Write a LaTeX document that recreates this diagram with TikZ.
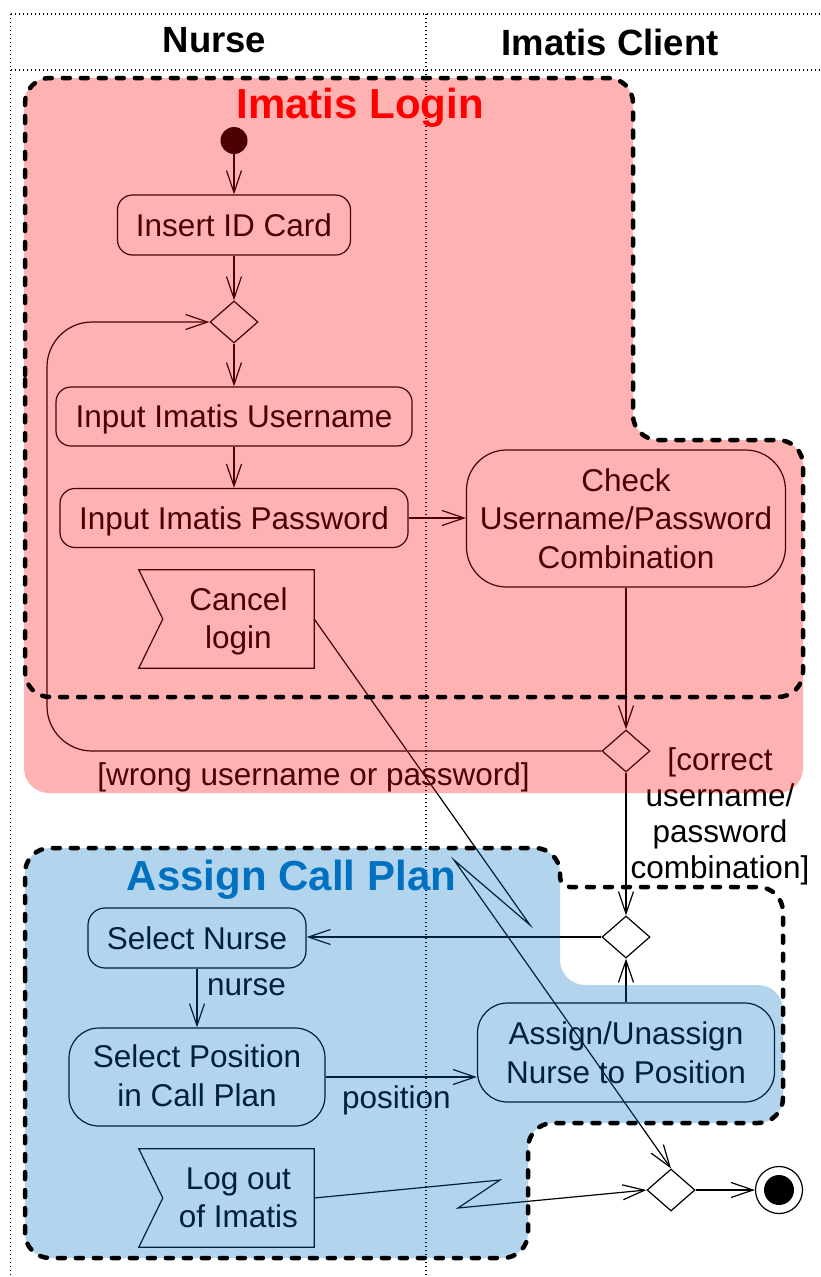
\documentclass[tikz,border=0pt]{standalone}
\usepackage{fontspec}
\setmainfont{Liberation Sans}
\usetikzlibrary{arrows.meta,calc,shapes.geometric}
\definecolor{regred}{RGB}{255,0,0}
\definecolor{regblue}{RGB}{0,112,192}
\begin{document}
\begin{tikzpicture}[x=1pt,y=-1pt,
  every node/.style={font=\fontsize{31.5}{38.5}\selectfont, inner sep=0pt},
  action/.style={draw, line width=1.2pt, rounded corners=15pt, align=center},
  oneline/.style={text height=22.6pt, text depth=0pt},
  dec/.style={draw, line width=1.2pt, diamond, minimum width=48pt, minimum height=42pt, inner sep=0pt},
  sigbox/.style={align=center, minimum width=151pt, minimum height=98pt},
  flow/.style={line width=1.2pt, -{Straight Barb[length=22pt,width=15pt]}},
  lane/.style={line width=1.4pt, dash pattern=on 1.4pt off 2.6pt},
  regborder/.style={line width=4.5pt, dash pattern=on 7pt off 11pt, line cap=round},
  hdr/.style={font=\bfseries\fontsize{36.5}{40}\selectfont},
  ttl/.style={font=\bfseries\fontsize{42}{50}\selectfont}]
\useasboundingbox (0,0) rectangle (821,1277);
% swimlanes
\draw[lane] (10.5,14) -- (821,14);
\draw[lane] (10.5,70) -- (821,70);
\draw[lane] (10.5,14) -- (10.5,1277);
\draw[lane] (426,14) -- (426,1277);
\node[hdr, anchor=base] (hnurse) at (214.5,52) {Nurse};
\node[hdr, anchor=base] (hclient) at (610,55) {Imatis Client};
% nodes
\node[circle, fill, minimum size=27pt] (start) at (234,140.5) {};
\node[action, oneline, minimum width=233pt, minimum height=60pt] (insert) at (234,225) {Insert ID Card};
\node[dec] (d1) at (234,322) {};
\node[action, oneline, minimum width=356pt, minimum height=59pt] (uname) at (234,416.5) {Input Imatis Username};
\node[action, oneline, minimum width=348pt, minimum height=59pt] (pwd) at (234,518) {Input Imatis Password};
\node[action, rounded corners=40pt, minimum width=319pt, minimum height=137pt] (check) at (626,518.5) {Check\\Username/Password\\Combination};
\node[sigbox] (cancel) at (238.5,619) {};
\node[align=center] (canceltxt) at (238.5,621.5) {Cancel\\login};
\draw[line width=1.2pt] ($(cancel.north west)+(-24,0)$) -- (cancel.north east) -- (cancel.south east) -- ($(cancel.south west)+(-24,0)$) -- (cancel.west) -- cycle;
\node[dec] (d2) at (626,751) {};
\node[dec] (d3) at (626,937) {};
\node[action, oneline, rounded corners=17pt, minimum width=218pt, minimum height=60pt] (snurse) at (197,938) {Select Nurse};
\node[action, rounded corners=30pt, minimum width=256pt, minimum height=98pt] (spos) at (197,1077) {};
\node[align=center] (spostxt) at (197,1075.5) {Select Position\\in Call Plan};
\node[action, rounded corners=30pt, minimum width=297pt, minimum height=99pt] (assign) at (626,1052.5) {Assign/Unassign\\Nurse to Position};
\node[sigbox] (logout) at (238.5,1198) {Log out\\of Imatis};
\draw[line width=1.2pt] ($(logout.north west)+(-24,0)$) -- (logout.north east) -- (logout.south east) -- ($(logout.south west)+(-24,0)$) -- (logout.west) -- cycle;
\node[dec] (d4) at (671,1190) {};
\node[circle, draw, line width=1.2pt, minimum size=47pt] (fin) at (779,1190) {};
\fill (fin.center) circle[radius=15pt];
% labels
\node[anchor=base] (lwrong) at (313.5,785) {[wrong username or password]};
\node[align=center, font=\fontsize{31.5}{36}\selectfont] (lcorrect) at (720,816) {[correct\\username/\\password\\combination]};
\node[anchor=base west] (lnurse) at (207,995) {nurse};
\node[anchor=base west] (lpos) at (342,1108) {position};
% coordinates
\coordinate (loopL) at (47,0);
\coordinate (z1) at (530,925);
\coordinate (z2) at (454,860);
\coordinate (z3) at (500,1180);
\coordinate (z4) at (458,1208);
% edges
\draw[flow] (start) -- (insert);
\draw[flow] (insert) -- (d1);
\draw[flow] (d1) -- (uname);
\draw[flow] (uname) -- (pwd);
\draw[flow] (pwd.east) -- (pwd.east -| check.west);
\draw[flow] (check) -- (d2);
\draw[flow, rounded corners=45pt] (d2.west) -- (d2.west -| loopL) -- (d1.west -| loopL) -- (d1.west);
\draw[flow] (d2) -- (d3);
\draw[flow] (d3.west) -- (d3.west -| snurse.east);
\draw[flow] (assign) -- (d3);
\draw[flow] (snurse) -- (spos);
\draw[flow] (spos.east) -- (spos.east -| assign.west);
\draw[flow] (cancel.east) -- (z1) -- (z2) -- (d4.north);
\draw[flow] (logout.east) -- (z3) -- (z4) -- (d4.west);
\draw[flow] (d4) -- (fin);
% region fills
\fill[regred, opacity=0.3, rounded corners=25pt] (24,78) -- (633,78) -- (633,440) -- (803,440) -- (803,793) -- (24,793) -- cycle;
\fill[regblue, opacity=0.3, rounded corners=25pt] (25,848) -- (560,848) -- (560,985) -- (783,985) -- (783,1123) -- (528,1123) -- (528,1258) -- (25,1258) -- cycle;
% region borders
\draw[regborder, rounded corners=25pt] (25,400) -- (25,78) -- (633,78) -- (633,440) -- (803,440) -- (803,697) -- (25,697) -- cycle;
\draw[regborder, rounded corners=25pt] (25,1000) -- (25,848) -- (560,848) [rounded corners=10pt] -- (560,887) [rounded corners=25pt] -- (783,887) -- (783,1123) -- (528,1123) -- (528,1258) -- (25,1258) -- cycle;
% titles
\node[ttl, text=regred, anchor=base] (tlogin) at (360,118) {Imatis Login};
\node[ttl, text=regblue, anchor=base] (tplan) at (291.5,890) {Assign Call Plan};
\end{tikzpicture}
\end{document}
